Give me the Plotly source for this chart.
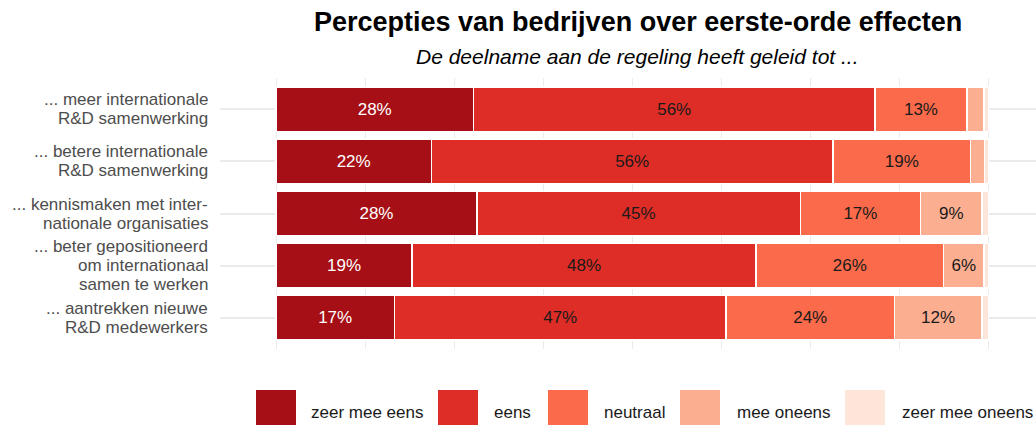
import plotly.graph_objects as go

categories = [
    "... meer internationale<br>R&D samenwerking",
    "... betere internationale<br>R&D samenwerking",
    "... kennismaken met inter-<br>nationale organisaties",
    "... beter gepositioneerd<br>om internationaal<br>samen te werken",
    "... aantrekken nieuwe<br>R&D medewerkers",
]
series_names = ["zeer mee eens", "eens", "neutraal", "mee oneens", "zeer mee oneens"]
zeer_mee_eens = [27.7, 21.8, 28.2, 19.1, 16.6]
eens = [56.4, 56.4, 45.4, 48.3, 46.6]
neutraal = [12.9, 19.3, 16.9, 26.3, 23.6]
mee_oneens = [2.4, 2.0, 8.6, 5.7, 12.3]
zeer_mee_oneens = [0.6, 0.5, 0.9, 0.6, 0.9]
series_values = [zeer_mee_eens, eens, neutraal, mee_oneens, zeer_mee_oneens]
colors = ["#A50F15", "#DE2D26", "#FB6A4A", "#FCAE91", "#FEE5D9"]
text_colors = ["white", "#1A1A1A", "#1A1A1A", "#1A1A1A", "#1A1A1A"]

W, H = 1036, 425
ML, MR, MT, MB = 220, 0, 78, 76
PW, PH = W - ML - MR, H - MT - MB
FONT = "Liberation Sans, Arial, sans-serif"


def px_x(x):
    return (x - ML) / PW


def px_y(y):
    return (H - MB - y) / PH


fig = go.Figure()
for name, vals, col, tcol in zip(series_names, series_values, colors, text_colors):
    fig.add_trace(go.Bar(
        y=categories, x=vals, name=name, orientation="h",
        marker=dict(color=col, line=dict(color="white", width=1.5)),
        text=[f"{round(v)}%" if v >= 5 else "" for v in vals],
        textposition="inside", insidetextanchor="middle",
        textfont=dict(family=FONT, size=17, color=tcol),
        constraintext="none", textangle=0,
        showlegend=False, hoverinfo="x+y+name",
    ))

shapes = []
annotations = []
# category labels (one annotation per line for ggplot-like line spacing)
for cat in categories:
    lines = cat.split("<br>")
    n = len(lines)
    for i, ln in enumerate(lines):
        annotations.append(dict(xref="paper", yref="y", x=px_x(210), y=cat,
                                yshift=((n - 1) / 2 - i) * 19,
                                text=ln, showarrow=False, xanchor="right", yanchor="middle",
                                font=dict(family=FONT, size=17, color="#4D4D4D")))

# custom legend
key_left = [256, 438, 548, 680, 845]
text_left = [309, 492, 602, 735, 900]
for name, col, kx, tx in zip(series_names, colors, key_left, text_left):
    shapes.append(dict(type="rect", xref="paper", yref="paper",
                       x0=px_x(kx), x1=px_x(kx + 40), y0=px_y(430), y1=px_y(390),
                       fillcolor=col, line=dict(width=0), layer="above"))
    annotations.append(dict(xref="paper", yref="paper", x=px_x(tx), y=px_y(412),
                            text=name, showarrow=False, xanchor="left", yanchor="middle",
                            font=dict(family=FONT, size=17, color="#1A1A1A")))

annotations.append(dict(xref="paper", yref="paper", x=px_x(638), y=px_y(22),
                        text="<b>Percepties van bedrijven over eerste-orde effecten</b>",
                        showarrow=False, xanchor="center", yanchor="middle",
                        font=dict(family=FONT, size=27, color="black")))
annotations.append(dict(xref="paper", yref="paper", x=px_x(637), y=px_y(57),
                        text="<i>De deelname aan de regeling heeft geleid tot ...</i>",
                        showarrow=False, xanchor="center", yanchor="middle",
                        font=dict(family=FONT, size=21, color="black")))

fig.update_layout(
    width=W, height=H,
    margin=dict(l=ML, r=MR, t=MT, b=MB, pad=0, autoexpand=False),
    barmode="stack", bargap=0.15,
    plot_bgcolor="white", paper_bgcolor="white",
    font=dict(family=FONT),
    shapes=shapes, annotations=annotations,
    xaxis=dict(range=[-7.87, 106.7], showticklabels=False, tick0=0, dtick=12.5,
               showgrid=True, gridcolor="#EBEBEB", gridwidth=1, zeroline=False,
               showline=False, ticks="", automargin=False),
    yaxis=dict(categoryorder="array", categoryarray=categories[::-1],
               range=[-0.6, 4.6], showgrid=True, gridcolor="#EBEBEB", gridwidth=1.5,
               zeroline=False, showline=False, ticks="", showticklabels=False,
               automargin=False),
)

fig.write_html(
    "out.html",
    config={"displayModeBar": False},
    post_script="document.body.style.margin='0';document.body.style.overflow='hidden';",
)
